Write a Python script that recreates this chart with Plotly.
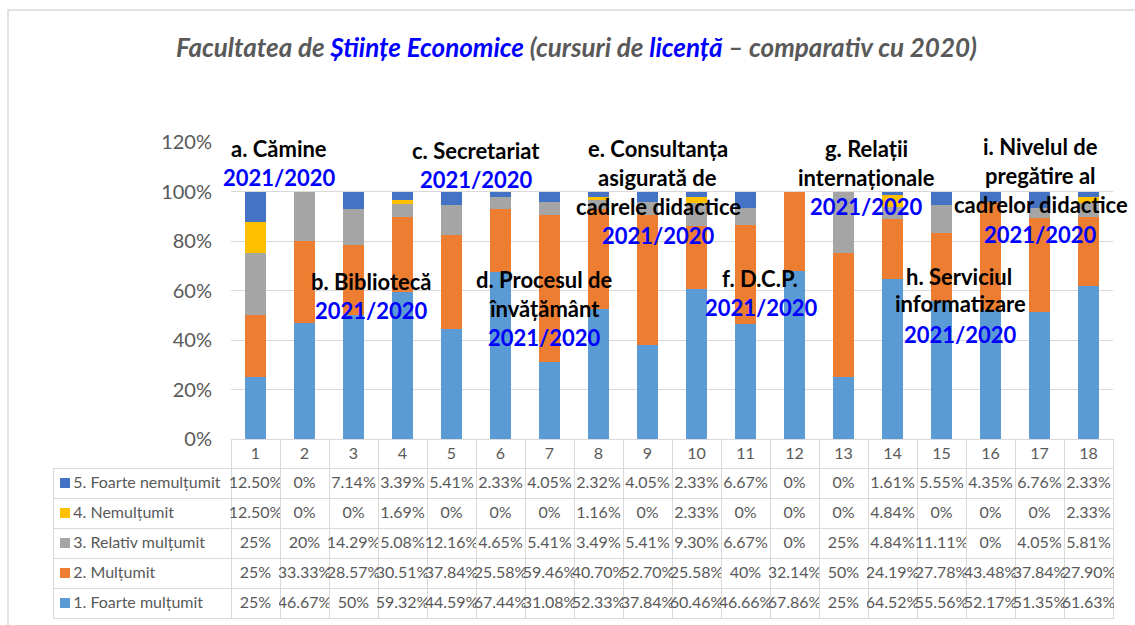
import plotly.graph_objects as go

W, H = 1135, 625

categories = [str(i) for i in range(1, 19)]

series_names = ["1. Foarte mulțumit", "2. Mulțumit", "3. Relativ mulțumit",
                "4. Nemulțumit", "5. Foarte nemulțumit"]
series_colors = ["#5B9BD5", "#ED7D31", "#A5A5A5", "#FFC000", "#4472C4"]

foarte_multumit = [25, 46.67, 50, 59.32, 44.59, 67.44, 31.08, 52.33, 37.84,
                   60.46, 46.66, 67.86, 25, 64.52, 55.56, 52.17, 51.35, 61.63]
multumit = [25, 33.33, 28.57, 30.51, 37.84, 25.58, 59.46, 40.70, 52.70,
            25.58, 40, 32.14, 50, 24.19, 27.78, 43.48, 37.84, 27.90]
relativ_multumit = [25, 20, 14.29, 5.08, 12.16, 4.65, 5.41, 3.49, 5.41,
                    9.30, 6.67, 0, 25, 4.84, 11.11, 0, 4.05, 5.81]
nemultumit = [12.50, 0, 0, 1.69, 0, 0, 0, 1.16, 0,
              2.33, 0, 0, 0, 4.84, 0, 0, 0, 2.33]
foarte_nemultumit = [12.50, 0, 7.14, 3.39, 5.41, 2.33, 4.05, 2.32, 4.05,
                     2.33, 6.67, 0, 0, 1.61, 5.55, 4.35, 6.76, 2.33]

series_values = [foarte_multumit, multumit, relativ_multumit, nemultumit, foarte_nemultumit]

y_tick_values = [0, 0.2, 0.4, 0.6, 0.8, 1.0, 1.2]

# text boxes over the chart: (text, colour, x px, y px)
BLUE = "#0000FF"
BLACK = "#000000"
text_boxes = [
    ("a. Cămine", BLACK, 279, 149), ("2021/2020", BLUE, 279, 177),
    ("c. Secretariat", BLACK, 476, 150), ("2021/2020", BLUE, 476, 179),
    ("e. Consultanța", BLACK, 658, 149), ("asigurată de", BLACK, 657, 177),
    ("cadrele didactice", BLACK, 658, 206), ("2021/2020", BLUE, 658, 236),
    ("g. Relații", BLACK, 866, 149), ("internaționale", BLACK, 866, 177),
    ("2021/2020", BLUE, 866, 206),
    ("i. Nivelul de", BLACK, 1040, 146), ("pregătire al", BLACK, 1040, 175),
    ("cadrelor didactice", BLACK, 1041, 204), ("2021/2020", BLUE, 1040, 234),
    ("b. Bibliotecă", BLACK, 371, 281), ("2021/2020", BLUE, 371, 310),
    ("d. Procesul de", BLACK, 544, 279), ("învățământ", BLACK, 544, 309),
    ("2021/2020", BLUE, 544, 337),
    ("f. D.C.P.", BLACK, 760, 278), ("2021/2020", BLUE, 761, 307),
    ("h. Serviciul", BLACK, 959, 276), ("informatizare", BLACK, 960, 304),
    ("2021/2020", BLUE, 960, 334),
]


def px_x(v):
    return v / W


def px_y(v):
    return 1 - v / H


def fmt(v):
    return f"{int(v)}%" if float(v).is_integer() else f"{v:.2f}%"


FONT = "Lato"
GRAY = "#595959"
GRID = "#D9D9D9"
NBSP = "\u00a0"

fig = go.Figure()

for name, color, vals in zip(series_names, series_colors, series_values):
    fig.add_trace(go.Bar(
        x=categories, y=[v / 100 for v in vals], name=name,
        marker=dict(color=color, line=dict(width=0)),
        showlegend=False, hoverinfo="skip",
    ))

# data table below the chart
TABLE_L = 53
LABEL_W = 178
COL_W = 49
PLOT_L = TABLE_L + LABEL_W
PLOT_R = PLOT_L + COL_W * len(categories)
PLOT_TOP, PLOT_BOTTOM = 142, 439
HEADER_H, ROW_H = 29, 30

row_order = list(range(4, -1, -1))  # table lists series 5 .. 1 from top
# non-breaking spaces keep each label on one line
label_cells = [NBSP * 3 + NBSP.join(series_names[i].split(" ")) for i in row_order]
value_cols = [[fmt(series_values[s][c]) for s in row_order] for c in range(len(categories))]

fig.add_trace(go.Table(
    domain=dict(x=[px_x(TABLE_L), px_x(PLOT_R)], y=[0, px_y(PLOT_BOTTOM)]),
    columnwidth=[LABEL_W] + [COL_W] * len(categories),
    header=dict(
        values=[""] + categories,
        height=HEADER_H,
        fill=dict(color=["rgba(0,0,0,0)"] + ["white"] * len(categories)),
        line=dict(color=["rgba(0,0,0,0)"] + [GRID] * len(categories), width=1),
        align="center",
        font=dict(family=FONT, size=16, color=GRAY),
    ),
    cells=dict(
        values=[label_cells] + value_cols,
        height=ROW_H,
        fill=dict(color="white"),
        line=dict(color=GRID, width=1),
        align=["left"] + ["center"] * len(categories),
        font=dict(family=FONT, size=16, color=GRAY),
    ),
))

# legend keys (coloured squares) in the table's label column
shapes = []
for k, i in enumerate(row_order):
    cy = PLOT_BOTTOM + HEADER_H + ROW_H * k + ROW_H / 2
    shapes.append(dict(type="rect", xref="paper", yref="paper",
                       x0=px_x(60), x1=px_x(70), y0=px_y(cy + 5), y1=px_y(cy - 5),
                       fillcolor=series_colors[i], line=dict(width=0)))

shapes.append(dict(type="rect", xref="paper", yref="paper",
                   x0=px_x(8), x1=px_x(1145), y0=px_y(640), y1=px_y(10),
                   line=dict(color=GRID, width=1.5), fillcolor="rgba(0,0,0,0)",
                   layer="below"))

annotations = []
for txt, col, x, y in text_boxes:
    annotations.append(dict(
        text=f"<b>{txt}</b>", x=px_x(x), y=px_y(y), xref="paper", yref="paper",
        xanchor="center", yanchor="middle", showarrow=False,
        font=dict(family=FONT, size=22, color=col),
    ))

title_text = ("<b><i>Facultatea de <span style='color:#0000FF'>Științe Economice</span>"
              " (cursuri de <span style='color:#0000FF'>licență</span>"
              " – comparativ cu 2020)</i></b>")
annotations.append(dict(
    text=title_text, x=px_x(576), y=px_y(47), xref="paper", yref="paper",
    xanchor="center", yanchor="middle", showarrow=False,
    font=dict(family=FONT, size=26, color=GRAY),
))

fig.update_layout(
    width=W, height=H,
    margin=dict(l=0, r=0, t=0, b=0, autoexpand=False),
    paper_bgcolor="white", plot_bgcolor="white",
    barmode="stack", bargap=0.59,
    xaxis=dict(domain=[px_x(PLOT_L), px_x(PLOT_R)], showticklabels=False,
               showgrid=False, zeroline=False, showline=False, ticks="",
               automargin=False),
    yaxis=dict(domain=[px_y(PLOT_BOTTOM), px_y(PLOT_TOP)], range=[0, 1.2],
               tickvals=y_tick_values, tickformat=".0%",
               showgrid=True, gridcolor=GRID, gridwidth=1, zeroline=False,
               showline=False, ticks="", ticklabelstandoff=18, automargin=False,
               tickfont=dict(family=FONT, size=20, color=GRAY)),
    annotations=annotations,
    shapes=shapes,
)

fig.write_html("out.html", config={"displayModeBar": False},
               post_script="document.body.style.margin='0';document.body.style.overflow='hidden';")
